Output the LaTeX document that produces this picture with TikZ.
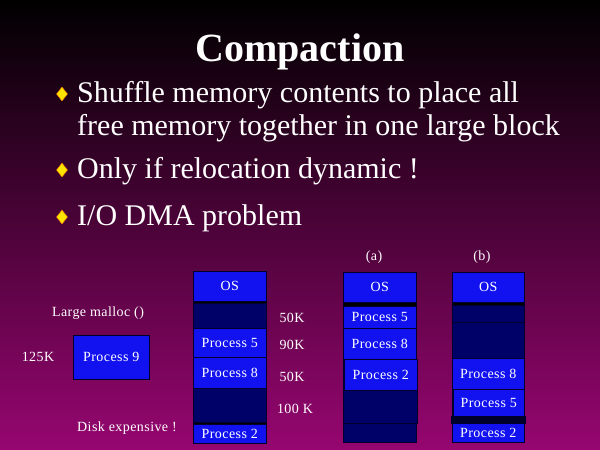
\documentclass[tikz,border=0pt]{standalone}
\usepackage{fontspec}
\setmainfont{Liberation Serif}
\newfontfamily\memfont[LetterSpace=3]{Liberation Serif}
\usetikzlibrary{shapes.geometric}

\definecolor{procblue}{RGB}{18,18,240}
\definecolor{freeblue}{RGB}{0,0,105}
\definecolor{edgeblue}{RGB}{0,0,45}
\definecolor{bulletyellow}{RGB}{255,228,0}
\definecolor{slidemid}{RGB}{68,8,50}
\definecolor{slidebottom}{RGB}{150,6,112}

\tikzset{
  slidetitle/.style={font=\fontsize{40}{40}\selectfont\bfseries, text=white, anchor=base, inner sep=0pt},
  bullettext/.style={font=\fontsize{30}{33}\selectfont, text=white, anchor=base west, inner sep=0pt},
  bulletmark/.style={diamond, fill=bulletyellow, draw=orange, line width=0.4pt, inner sep=0pt, minimum width=11pt, minimum height=14pt},
  memlabel/.style={font=\memfont\fontsize{14}{14}\selectfont, text=white, inner sep=0pt},
  memblock/.style={anchor=north west, inner sep=0pt, draw=edgeblue, line width=0.6pt, font=\memfont\fontsize{14}{14}\selectfont, text=white},
  proc/.style={memblock, fill=procblue},
  hole/.style={memblock, fill=freeblue},
}

\begin{document}
\begin{tikzpicture}[x=1pt, y=-1pt]
  \shade[top color=black, middle color=slidemid, bottom color=slidebottom] (0,0) rectangle (600,450);

  \node[slidetitle] (title) at (300,61) {Compaction};

  \node[bulletmark] (d1) at (62,94) {};
  \node[bullettext] (s1) at (77,102) {Shuffle memory contents to place all};
  \node[bullettext] (s1b) at (77,135) {free memory together in one large block};
  \node[bulletmark] (d2) at (62,170) {};
  \node[bullettext] (s2) at (77,178) {Only if relocation dynamic !};
  \node[bulletmark] (d3) at (62,217) {};
  \node[bullettext] (s3) at (77,225) {I/O DMA problem};

  % new request
  \node[memlabel] (malloc) at (98,313) {Large malloc ()};
  \node[memlabel] (size9) at (38,357) {125K};
  \node[proc, minimum width=76pt, minimum height=44pt] (p9) at (73,335) {Process 9};
  \node[memlabel] (disk) at (127,428) {Disk expensive !};

  % memory before compaction
  \node[memblock, fill=black, minimum width=73pt, minimum height=172pt] (colI) at (193,271) {};
  \node[proc, minimum width=73pt, minimum height=30pt] (osI) at (193,271) {OS};
  \node[hole, minimum width=73pt, minimum height=25pt] (holeIa) at (193,303) {};
  \node[proc, minimum width=73pt, minimum height=29pt] (p5I) at (193,328) {Process 5};
  \node[proc, minimum width=73pt, minimum height=31pt] (p8I) at (193,357) {Process 8};
  \node[hole, minimum width=73pt, minimum height=34pt] (holeIb) at (193,388) {};
  \node[proc, minimum width=73pt, minimum height=19pt] (p2I) at (193,424) {Process 2};

  \node[memlabel] (k1) at (292,318) {50K};
  \node[memlabel] (k2) at (292,345) {90K};
  \node[memlabel] (k3) at (292,377) {50K};
  \node[memlabel] (k4) at (295,409) {100 K};

  % compaction (a)
  \node[memlabel] (capA) at (374,257) {(a)};
  \node[memblock, fill=black, minimum width=73pt, minimum height=170pt] (colA) at (343,272) {};
  \node[proc, minimum width=73pt, minimum height=30pt] (osA) at (343,272) {OS};
  \node[proc, minimum width=73pt, minimum height=22pt] (p5A) at (343,306) {Process 5};
  \node[proc, minimum width=73pt, minimum height=31pt] (p8A) at (343,328) {Process 8};
  \node[proc, minimum width=73pt, minimum height=31pt] (p2A) at (344,359) {Process 2};
  \node[hole, minimum width=74pt, minimum height=33pt] (holeAa) at (343,390) {};
  \node[hole, minimum width=73pt, minimum height=19pt] (holeAb) at (343,423) {};

  % compaction (b)
  \node[memlabel] (capB) at (482,257) {(b)};
  \node[memblock, fill=black, minimum width=72pt, minimum height=170pt] (colB) at (452,272) {};
  \node[proc, minimum width=72pt, minimum height=30pt] (osB) at (452,272) {OS};
  \node[hole, minimum width=72pt, minimum height=17pt] (holeBa) at (452,305) {};
  \node[hole, minimum width=72pt, minimum height=36pt] (holeBb) at (452,322) {};
  \node[proc, minimum width=72pt, minimum height=31pt] (p8B) at (452,358) {Process 8};
  \node[proc, minimum width=71pt, minimum height=27pt] (p5B) at (453,389) {Process 5};
  \node[memblock, fill=edgeblue, minimum width=74pt, minimum height=7pt] (bandB) at (451,416) {};
  \node[proc, minimum width=72pt, minimum height=19pt] (p2B) at (452,423) {Process 2};
\end{tikzpicture}
\end{document}
